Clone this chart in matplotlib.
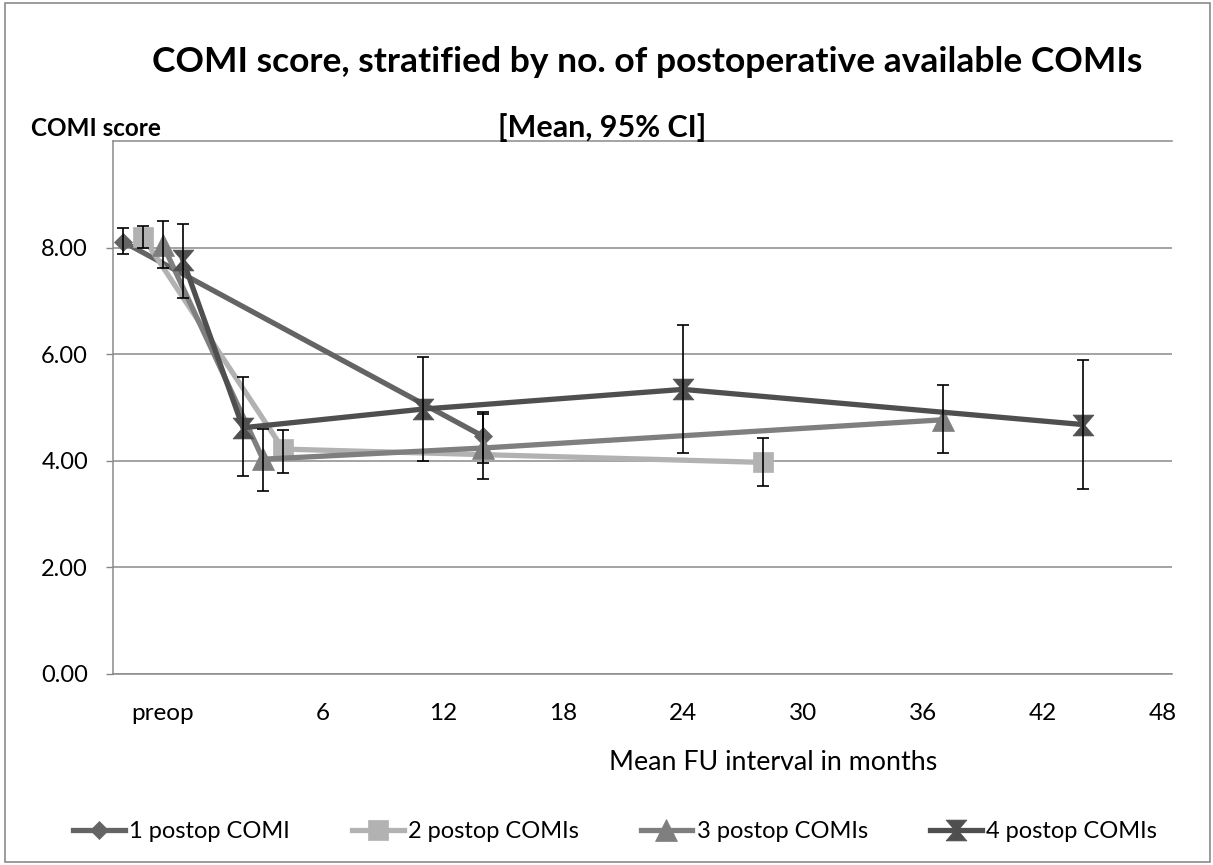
import numpy as np
import matplotlib
matplotlib.use("Agg")
import matplotlib.pyplot as plt
from matplotlib.path import Path
from matplotlib.patches import Rectangle

plt.rcParams["font.family"] = ["Lato", "DejaVu Sans"]

# mean FU interval in months (preop points are drawn just left of 0)
x_1 = [-4, 14]
x_2 = [-3, 4, 28]
x_3 = [-2, 3, 14, 37]
x_4 = [-1, 2, 11, 24, 44]

# mean COMI score
mean_1 = [8.11, 4.46]
mean_2 = [8.20, 4.22, 3.97]
mean_3 = [8.05, 4.03, 4.24, 4.77]
mean_4 = [7.76, 4.62, 4.97, 5.34, 4.68]

# 95% CI lower / upper
lo_1 = [7.88, 3.96]
hi_1 = [8.37, 4.92]
lo_2 = [7.99, 3.78, 3.53]
hi_2 = [8.41, 4.57, 4.43]
lo_3 = [7.61, 3.43, 3.66, 4.14]
hi_3 = [8.49, 4.60, 4.88, 5.43]
lo_4 = [7.06, 3.71, 3.99, 4.14, 3.48]
hi_4 = [8.44, 5.57, 5.94, 6.54, 5.89]

labels = ["1 postop COMI", "2 postop COMIs", "3 postop COMIs", "4 postop COMIs"]
tick_pos = [-2, 6, 12, 18, 24, 30, 36, 42, 48]
tick_labels = ["preop", "6", "12", "18", "24", "30", "36", "42", "48"]

# bowtie marker like the excel one
bowtie = Path([(-1, 1), (1, 1), (0.15, 0), (1, -1), (-1, -1), (-0.15, 0), (-1, 1)],
              [Path.MOVETO] + [Path.LINETO] * 5 + [Path.CLOSEPOLY])

series = [
    (x_1, mean_1, lo_1, hi_1, "#646464", "D", 9.5),
    (x_2, mean_2, lo_2, hi_2, "#b2b2b2", "s", 14),
    (x_3, mean_3, lo_3, hi_3, "#7f7f7f", "^", 16),
    (x_4, mean_4, lo_4, hi_4, "#4f4f4f", bowtie, 15),
]

fig = plt.figure(figsize=(12.13, 8.65), dpi=100)
ax = fig.add_axes([113 / 1213, 1 - 674 / 865, (1172 - 113) / 1213, (674 - 141) / 865])

for (xs, m, lo, hi, col, mk, ms), lab in zip(series, labels):
    ax.plot(xs, m, color=col, lw=3.8, marker=mk, markersize=ms,
            markerfacecolor=col, markeredgecolor=col, markeredgewidth=0.5,
            label=lab, zorder=3)
    m = np.array(m)
    err = [m - np.array(lo), np.array(hi) - m]
    ax.errorbar(xs, m, yerr=err, fmt="none", ecolor="black", elinewidth=1.2,
                capsize=4.3, capthick=1.2, zorder=4)

ax.set_xlim(-4.5, 48.45)
ax.set_ylim(0, 10)
ax.set_yticks([0, 2, 4, 6, 8])
ax.set_yticklabels(["%.2f" % v for v in [0, 2, 4, 6, 8]])
ax.set_xticks(tick_pos)
ax.set_xticklabels(tick_labels)
ax.tick_params(axis="y", length=5, width=1, color="#868686", pad=13, labelsize=17)
ax.tick_params(axis="x", length=0, pad=21, labelsize=17.5)
ax.grid(axis="y", color="#8a8a8a", lw=1.1)
ax.set_axisbelow(True)
for s in ["left", "bottom", "top"]:
    ax.spines[s].set_color("#8a8a8a")
    ax.spines[s].set_linewidth(1.1)
ax.spines["right"].set_visible(False)

fig.text(647 / 1213, 1 - 62 / 865, "COMI score, stratified by no. of postoperative available COMIs",
         ha="center", va="center", fontsize=25.5, fontweight="bold")
fig.text(31 / 1213, 1 - 128 / 865, "COMI score", ha="left", va="center",
         fontsize=17.5, fontweight="bold")
fig.text(602 / 1213, 1 - 128 / 865, "[Mean, 95% CI]", ha="center", va="center",
         fontsize=22, fontweight="bold")
fig.text(773 / 1213, 1 - 762 / 865, "Mean FU interval in months", ha="center", va="center",
         fontsize=19.3)

fig.legend(loc="center", bbox_to_anchor=(615 / 1213, 1 - 832 / 865), ncol=4, frameon=False,
           fontsize=17, handlelength=2.2, handletextpad=0.2, columnspacing=2.6, numpoints=1)

# outer chart border
fig.patches.append(Rectangle((5 / 1213, 3 / 865), 1205 / 1213, 859 / 865, transform=fig.transFigure,
                             fill=False, edgecolor="#8a8a8a", lw=1.2))

fig.savefig("out.png", dpi=100)
